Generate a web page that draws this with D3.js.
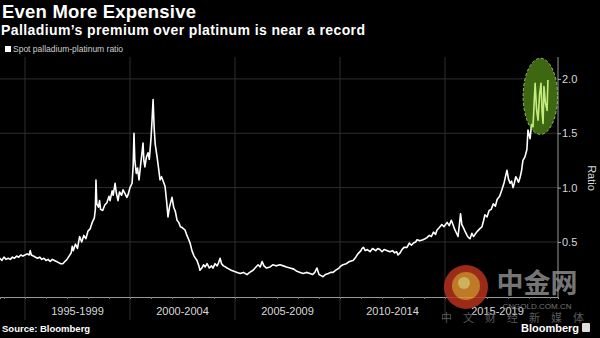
<!DOCTYPE html>
<html><head><meta charset="utf-8">
<script src="https://cdn.jsdelivr.net/npm/d3@7"></script>
<style>html,body{margin:0;padding:0;background:#000;}svg{display:block;}</style>
</head><body>
<svg id="c" width="600" height="338"></svg>
<script>
// ---- data ----
const title = "Even More Expensive";
const subtitle = "Palladium\u2019s premium over platinum is near a record";
const seriesName = "Spot palladium-platinum ratio";
const periodLabels = ["1995-1999","2000-2004","2005-2009","2010-2014","2015-2019"];
const periodStarts = [1995,2000,2005,2010,2015];
const yTicks = [0.5,1.0,1.5,2.0];
const years = [1993.8,1993.9,1994.0,1994.1,1994.2,1994.3,1994.4,1994.5,1994.6,1994.7,1994.8,1994.9,1995.0,1995.1,1995.2,1995.25,1995.3,1995.4,1995.5,1995.6,1995.7,1995.8,1995.9,1996.0,1996.1,1996.2,1996.3,1996.4,1996.5,1996.6,1996.7,1996.8,1996.9,1997.0,1997.1,1997.2,1997.25,1997.3,1997.4,1997.5,1997.6,1997.7,1997.8,1997.9,1998.0,1998.1,1998.2,1998.3,1998.35,1998.38,1998.42,1998.5,1998.55,1998.6,1998.7,1998.8,1998.9,1999.0,1999.05,1999.15,1999.2,1999.29,1999.35,1999.43,1999.5,1999.6,1999.67,1999.75,1999.85,1999.9,2000.0,2000.1,2000.15,2000.19,2000.23,2000.3,2000.36,2000.43,2000.5,2000.56,2000.62,2000.66,2000.71,2000.78,2000.86,2000.92,2001.0,2001.05,2001.1,2001.15,2001.2,2001.29,2001.36,2001.43,2001.5,2001.6,2001.67,2001.74,2001.81,2001.88,2002.0,2002.08,2002.16,2002.24,2002.32,2002.4,2002.5,2002.62,2002.71,2002.8,2002.86,2002.95,2003.05,2003.19,2003.28,2003.33,2003.42,2003.5,2003.58,2003.67,2003.78,2003.88,2003.95,2004.05,2004.15,2004.22,2004.29,2004.36,2004.45,2004.55,2004.62,2004.72,2004.82,2004.95,2005.1,2005.25,2005.4,2005.57,2005.7,2005.86,2006.0,2006.1,2006.2,2006.29,2006.38,2006.5,2006.67,2006.8,2006.95,2007.14,2007.3,2007.45,2007.62,2007.8,2007.95,2008.1,2008.25,2008.4,2008.57,2008.7,2008.8,2008.9,2009.0,2009.1,2009.19,2009.3,2009.45,2009.55,2009.67,2009.8,2009.95,2010.05,2010.14,2010.3,2010.45,2010.62,2010.75,2010.85,2011.0,2011.05,2011.12,2011.2,2011.3,2011.43,2011.55,2011.7,2011.8,2011.9,2012.0,2012.1,2012.25,2012.38,2012.5,2012.6,2012.7,2012.76,2012.86,2012.95,2013.05,2013.19,2013.3,2013.4,2013.5,2013.6,2013.67,2013.8,2013.95,2014.05,2014.14,2014.25,2014.35,2014.45,2014.55,2014.62,2014.72,2014.85,2014.95,2015.1,2015.2,2015.3,2015.38,2015.45,2015.55,2015.62,2015.68,2015.74,2015.8,2015.88,2015.95,2016.05,2016.12,2016.19,2016.28,2016.36,2016.43,2016.55,2016.65,2016.76,2016.84,2016.9,2017.0,2017.1,2017.2,2017.3,2017.4,2017.48,2017.6,2017.71,2017.82,2017.9,2017.95,2018.02,2018.1,2018.17,2018.24,2018.3,2018.37,2018.43,2018.5,2018.57,2018.64,2018.71,2018.8,2018.9,2018.95,2019.05,2019.12,2019.19,2019.25,2019.29,2019.36,2019.43,2019.5,2019.57,2019.62,2019.67,2019.71,2019.78,2019.86,2019.9];
const ratio = [0.35,0.33,0.36,0.34,0.35,0.34,0.36,0.35,0.37,0.36,0.38,0.37,0.38,0.39,0.38,0.42,0.38,0.37,0.36,0.35,0.36,0.34,0.35,0.33,0.34,0.32,0.34,0.33,0.32,0.31,0.30,0.30,0.32,0.34,0.37,0.40,0.46,0.42,0.48,0.44,0.55,0.50,0.56,0.53,0.60,0.62,0.68,0.72,0.80,1.07,0.85,0.82,0.88,0.80,0.79,0.84,0.86,0.92,0.88,0.97,0.93,1.04,0.95,0.88,0.96,0.93,0.98,0.95,0.91,0.93,1.00,1.04,1.20,1.50,1.25,1.13,1.18,1.07,1.20,1.30,1.41,1.25,1.19,1.28,1.32,1.26,1.45,1.62,1.81,1.55,1.40,1.28,1.18,1.07,1.10,1.05,1.01,0.88,0.73,0.82,0.91,0.82,0.78,0.70,0.68,0.64,0.63,0.61,0.56,0.52,0.49,0.42,0.37,0.33,0.28,0.24,0.26,0.29,0.27,0.30,0.26,0.28,0.26,0.30,0.28,0.31,0.35,0.30,0.28,0.27,0.26,0.25,0.24,0.23,0.22,0.21,0.22,0.20,0.22,0.24,0.27,0.29,0.27,0.32,0.28,0.26,0.27,0.29,0.28,0.29,0.28,0.27,0.26,0.25,0.23,0.22,0.21,0.22,0.21,0.20,0.22,0.26,0.20,0.19,0.18,0.20,0.21,0.22,0.22,0.24,0.26,0.28,0.29,0.30,0.32,0.33,0.36,0.39,0.42,0.44,0.45,0.42,0.43,0.41,0.44,0.42,0.44,0.43,0.41,0.43,0.42,0.41,0.42,0.40,0.41,0.38,0.40,0.43,0.45,0.45,0.49,0.47,0.49,0.50,0.52,0.51,0.52,0.53,0.54,0.56,0.55,0.59,0.57,0.61,0.63,0.66,0.64,0.68,0.65,0.70,0.66,0.62,0.58,0.55,0.65,0.76,0.66,0.63,0.60,0.56,0.54,0.53,0.58,0.55,0.57,0.60,0.62,0.64,0.70,0.75,0.73,0.79,0.80,0.85,0.83,0.89,0.92,0.98,1.05,1.12,1.16,1.08,1.04,1.06,1.00,1.04,1.10,1.08,1.05,1.09,1.15,1.25,1.28,1.35,1.53,1.45,1.58,1.56,1.80,1.96,1.72,1.62,1.85,1.96,1.70,1.59,1.93,1.78,1.71,1.99];
const highlight = {from: 2018.72, to: 2020.36, low: 1.49, high: 2.19};

// ---- layout ----
const svg = d3.select("#c");
const W = 600, H = 338;
const plot = {left: 0, right: 558, top: 57, bottom: 297};
const F = "Liberation Sans, Arial, sans-serif";
svg.append("rect").attr("width",W).attr("height",H).attr("fill","#000");

const x = d3.scaleLinear().domain([1993.81, 2020.38]).range([plot.left, plot.right]);
const y = d3.scaleLinear().domain([0, 2.2]).range([296.3, 296.3 - 2.2*108.7]);

// gridlines
svg.append("g").selectAll("line").data(yTicks).join("line")
  .attr("x1",plot.left).attr("x2",plot.right)
  .attr("y1",d=>y(d)).attr("y2",d=>y(d))
  .attr("stroke","#2e2e2e").attr("stroke-width",1);
svg.append("g").selectAll("line").data(periodStarts).join("line")
  .attr("x1",d=>x(d)).attr("x2",d=>x(d))
  .attr("y1",plot.top).attr("y2",320)
  .attr("stroke","#2e2e2e").attr("stroke-width",1);

// x axis
const years1 = d3.range(1994, 2021);
const xAxis = d3.axisBottom(x).tickValues(years1).tickSize(2).tickFormat("");
const gx = svg.append("g").attr("transform",`translate(0,${plot.bottom})`).call(xAxis);
gx.select(".domain").attr("stroke","#9a9a9a");
gx.selectAll(".tick line").attr("stroke","#777");
svg.append("g").selectAll("text").data(periodLabels).join("text")
  .attr("x",(d,i)=>x(periodStarts[i]+2.5)).attr("y",315)
  .attr("text-anchor","middle").attr("fill","#d8d8d8")
  .attr("font-family",F).attr("font-size",11)
  .text(d=>d);

// y axis
const yAxis = d3.axisRight(y).tickValues(yTicks).tickSize(3).tickFormat(d3.format(".1f"));
const gy = svg.append("g").attr("transform",`translate(${plot.right},0)`).call(yAxis);
gy.select(".domain").attr("stroke","#9a9a9a").attr("d",`M0,${plot.top}V${plot.bottom}`);
gy.selectAll(".tick line").attr("stroke","#aaa");
gy.selectAll(".tick text").attr("fill","#d8d8d8").attr("font-size",11)
  .attr("font-family",F).attr("x",4);
svg.append("text").attr("transform",`translate(588,178) rotate(90)`)
  .attr("text-anchor","middle").attr("fill","#d8d8d8")
  .attr("font-family",F).attr("font-size",11).text("Ratio");

// line
const pts = years.map((t,i)=>[t, ratio[i]]);
const line = d3.line().x(d=>x(d[0])).y(d=>y(d[1]));
svg.append("path").datum(pts).attr("d",line).attr("fill","none")
  .attr("stroke","#fff").attr("stroke-width",1.6).attr("stroke-linejoin","round");

// highlight ellipse
const ecx = x((highlight.from+highlight.to)/2), ecy = y((highlight.low+highlight.high)/2);
const erx = (x(highlight.to)-x(highlight.from))/2, ery = (y(highlight.low)-y(highlight.high))/2;
const defs = svg.append("defs");
defs.append("clipPath").attr("id","ell").append("ellipse")
  .attr("cx",ecx).attr("cy",ecy).attr("rx",erx).attr("ry",ery);
svg.append("ellipse").attr("cx",ecx).attr("cy",ecy).attr("rx",erx).attr("ry",ery)
  .attr("fill","#416d12").attr("fill-opacity",0.95)
  .attr("stroke","#9cbc68").attr("stroke-width",1).attr("stroke-dasharray","3,2");
svg.append("path").datum(pts).attr("d",line).attr("fill","none")
  .attr("clip-path","url(#ell)")
  .attr("stroke","#c4ec7c").attr("stroke-width",1.6).attr("stroke-linejoin","round");

// titles
svg.append("text").attr("x",2).attr("y",18).attr("fill","#fff").attr("font-family",F)
  .attr("font-weight","bold").attr("font-size",18.5).attr("textLength",194).text(title);
svg.append("text").attr("x",1).attr("y",35).attr("fill","#fff").attr("font-family",F)
  .attr("font-weight","bold").attr("font-size",14).attr("textLength",364).text(subtitle);
svg.append("rect").attr("x",5).attr("y",46).attr("width",6).attr("height",6).attr("fill","#fff");
svg.append("text").attr("x",13).attr("y",52).attr("fill","#cfcfcf").attr("font-family",F)
  .attr("font-size",8.5).text(seriesName);

// watermark
const wm = svg.append("g").attr("opacity",0.85);
wm.append("circle").attr("cx",466).attr("cy",287).attr("r",22).attr("fill","#b8321e");
wm.append("circle").attr("cx",466).attr("cy",286).attr("r",14).attr("fill","#e0902e");
wm.append("circle").attr("cx",464).attr("cy",283).attr("r",6).attr("fill","#f2d070");
wm.append("text").attr("x",537).attr("y",293).attr("text-anchor","middle").attr("fill","#8a8a8a")
  .attr("font-family","Noto Sans CJK SC").attr("font-weight","bold").attr("font-size",27).text("中金网");
wm.append("text").attr("x",537).attr("y",309).attr("text-anchor","middle").attr("fill","#8a8a8a")
  .attr("font-family",F).attr("font-size",8).text("CNGOLD.COM.CN");
wm.append("text").attr("x",441).attr("y",322).attr("fill","#6a6a6a")
  .attr("font-family","Noto Sans CJK SC").attr("font-size",11).attr("letter-spacing",11).text("中文财经新媒体");

// footer
svg.append("text").attr("x",2).attr("y",332).attr("fill","#fff").attr("font-family",F)
  .attr("font-weight","bold").attr("font-size",9.5).text("Source: Bloomberg");
svg.append("text").attr("x",579).attr("y",332).attr("text-anchor","end").attr("fill","#fff").attr("font-family",F)
  .attr("font-weight","bold").attr("font-size",11).text("Bloomberg");
svg.append("rect").attr("x",582).attr("y",323).attr("width",8).attr("height",9).attr("rx",1).attr("fill","#ddd");
</script>
</body></html>
